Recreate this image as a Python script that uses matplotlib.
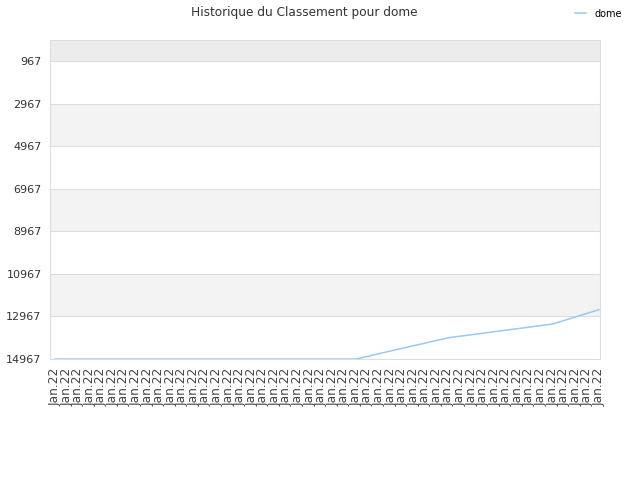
import numpy as np
from matplotlib import pyplot as plt

# ranking history for "dome" (lower rank number = better, axis is inverted)
labels = ['Jan.22'] * 48
rank = [14967] * 27 + [14840, 14712, 14588, 14462, 14340, 14214, 14090, 13966,
                      13895, 13824, 13752, 13680, 13610, 13538, 13466, 13395, 13323,
                      13155, 12985, 12818, 12651]
yticks = [967, 2967, 4967, 6967, 8967, 10967, 12967, 14967]

fig = plt.figure(figsize=(6.4, 4.8), dpi=100)
ax = fig.add_axes([0.078, 0.252, 0.8595, 0.6647])

x = np.arange(len(rank))
ax.plot(x, rank, color='#99c8f5', lw=1.1, label='dome')

ymin, ymax = -20, 14967
ax.set_ylim(ymax, ymin)
ax.set_xlim(-0.45, len(rank) - 1 + 0.1)

# alternating bands
ax.axhspan(ymin, yticks[0], color='#ececec', zorder=0, lw=0)
for i in range(1, len(yticks) - 1, 2):
    ax.axhspan(yticks[i], yticks[i + 1], color='#f3f3f3', zorder=0, lw=0)
for t in yticks:
    ax.axhline(t, color='#dddddd', lw=0.8, zorder=1)

ax.set_yticks(yticks)
ax.set_yticklabels([str(t) for t in yticks], fontsize=8, color='#333333')
ax.set_xticks(x)
ax.set_xticklabels(labels, rotation=90, fontsize=8.8, color='#444444')
ax.tick_params(length=0, pad=6)
ax.tick_params(axis='x', pad=6)

for s in ax.spines.values():
    s.set_color('#dddddd')

fig.text(0.476, 0.974, 'Historique du Classement pour dome', ha='center', va='center',
         fontsize=8.7, color='#333333')
leg = fig.legend(loc='upper right', bbox_to_anchor=(0.985, 1.0), frameon=False,
                 fontsize=7, handlelength=1.2, handletextpad=0.8)

fig.savefig('out.png', dpi=100)
